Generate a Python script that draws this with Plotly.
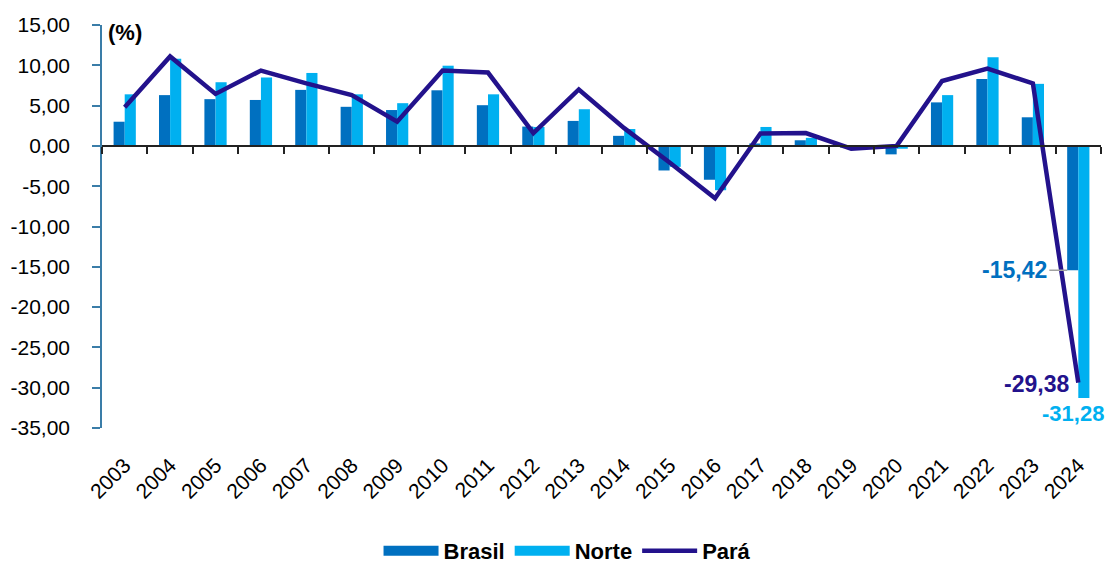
import plotly.graph_objects as go

YEARS = [str(y) for y in range(2003, 2025)]
BRASIL = [3.0, 6.3, 5.8, 5.7, 6.95, 4.85, 4.45, 6.9, 5.05, 2.4, 3.1, 1.25,
          -3.05, -4.2, 0.3, 0.7, -0.2, -1.05, 5.4, 8.3, 3.55, -15.42]
NORTE = [6.4, 10.8, 7.9, 8.5, 9.05, 6.4, 5.3, 9.95, 6.4, 2.35, 4.55, 2.1,
         -2.6, -5.5, 2.35, 1.0, -0.3, -0.35, 6.3, 11.0, 7.7, -31.28]
PARA = [4.8, 11.1, 6.45, 9.35, 7.75, 6.3, 3.0, 9.35, 9.1, 1.6, 7.0, 2.2,
        -2.05, -6.5, 1.55, 1.6, -0.35, 0.0, 8.05, 9.6, 7.75, -29.38]
Y_TICKS = [15, 10, 5, 0, -5, -10, -15, -20, -25, -30, -35]
Y_TICK_LABELS = [f"{v:.2f}".replace(".", ",") for v in Y_TICKS]

C_BR = "#0070C0"
C_NO = "#00B0F0"
C_PA = "#23128C"
AXIS_BLUE = "#3A7DA8"
FONT = "Liberation Sans, Arial, sans-serif"


def fmt(v):
    return f"{v:.2f}".replace(".", ",")


fig = go.Figure()
fig.add_trace(go.Bar(x=YEARS, y=BRASIL, name="Brasil", marker_color=C_BR,
                     marker_line_width=0, showlegend=False))
fig.add_trace(go.Bar(x=YEARS, y=NORTE, name="Norte", marker_color=C_NO,
                     marker_line_width=0, showlegend=False))
fig.add_trace(go.Scatter(x=YEARS, y=PARA, name="Pará", mode="lines",
                         line=dict(color=C_PA, width=4.5), showlegend=False))
# legend proxies (wide swatches like the reference)
fig.add_trace(go.Scatter(x=[None], y=[None], name="Brasil", mode="lines",
                         line=dict(color=C_BR, width=15)))
fig.add_trace(go.Scatter(x=[None], y=[None], name="Norte", mode="lines",
                         line=dict(color=C_NO, width=15)))
fig.add_trace(go.Scatter(x=[None], y=[None], name="Pará", mode="lines",
                         line=dict(color=C_PA, width=4.5)))
# invisible helper trace for the zero-line axis with boundary ticks
fig.add_trace(go.Scatter(x=YEARS, y=[0] * len(YEARS), xaxis="x2", mode="markers",
                         marker=dict(opacity=0), showlegend=False, hoverinfo="skip"))

rng = [-0.5, len(YEARS) - 0.5]
# page body has an 8px margin: figure is sized/margined to compensate
fig.update_layout(
    width=1107, height=555,
    margin=dict(l=94, r=14, t=17, b=135, autoexpand=False),
    plot_bgcolor="white", paper_bgcolor="white",
    barmode="group", bargap=0.51, bargroupgap=0,
    font=dict(family=FONT, color="black"),
    xaxis=dict(type="category", range=rng, showline=False, showgrid=False,
               zeroline=False, ticks="", tickangle=-45, ticklabelstandoff=20,
               automargin=False, tickfont=dict(size=21, family=FONT)),
    xaxis2=dict(type="category", overlaying="x", anchor="free", position=0.7,
                range=rng, showline=True, linecolor="#222", linewidth=1.5,
                ticks="outside", tickson="boundaries", ticklen=7, tickwidth=1.5,
                tickcolor="#222", showticklabels=False, showgrid=False,
                zeroline=False, automargin=False),
    yaxis=dict(range=[-35, 15], tickvals=Y_TICKS, ticktext=Y_TICK_LABELS,
               showline=True, linecolor=AXIS_BLUE, linewidth=1.5,
               ticks="outside", ticklen=8, tickwidth=1.5, tickcolor=AXIS_BLUE,
               showgrid=False, zeroline=False, ticklabelstandoff=18,
               automargin=False, tickfont=dict(size=21, family=FONT)),
    legend=dict(orientation="h", x=0.466, xanchor="center", y=-0.305,
                yanchor="middle", font=dict(size=22, family=FONT, weight=700),
                itemwidth=55, bgcolor="rgba(0,0,0,0)", tracegroupgap=0),
    showlegend=True,
)

# "(%)" unit label
fig.add_annotation(text="<b>(%)</b>", xref="paper", yref="paper", x=0.004, y=1,
                   xanchor="left", yanchor="top", yshift=7, showarrow=False,
                   font=dict(size=22, family=FONT, color="black"))

last = len(YEARS) - 1
# Brasil label with leader line
fig.add_annotation(x=last, y=BRASIL[-1], xref="x", yref="y",
                   text=f"<b>{fmt(BRASIL[-1])}</b>",
                   showarrow=True, arrowhead=0, arrowwidth=1.5, arrowcolor="#A0A0A0",
                   ax=-18, ay=0, xanchor="right", xshift=-11,
                   font=dict(size=23, family=FONT, color=C_BR))
# Pará label
fig.add_annotation(x=last, y=PARA[-1], xref="x", yref="y",
                   text=f"<b>{fmt(PARA[-1])}</b>",
                   showarrow=False, xanchor="right", yanchor="middle", xshift=-7,
                   yshift=-1,
                   font=dict(size=23, family=FONT, color=C_PA))
# Norte label
fig.add_annotation(x=last, y=NORTE[-1], xref="x", yref="y",
                   text=f"<b>{fmt(NORTE[-1])}</b>",
                   showarrow=False, xanchor="center", yanchor="top", xshift=-5,
                   yshift=-1,
                   font=dict(size=22, family=FONT, color=C_NO))

fig.write_html("out.html")
